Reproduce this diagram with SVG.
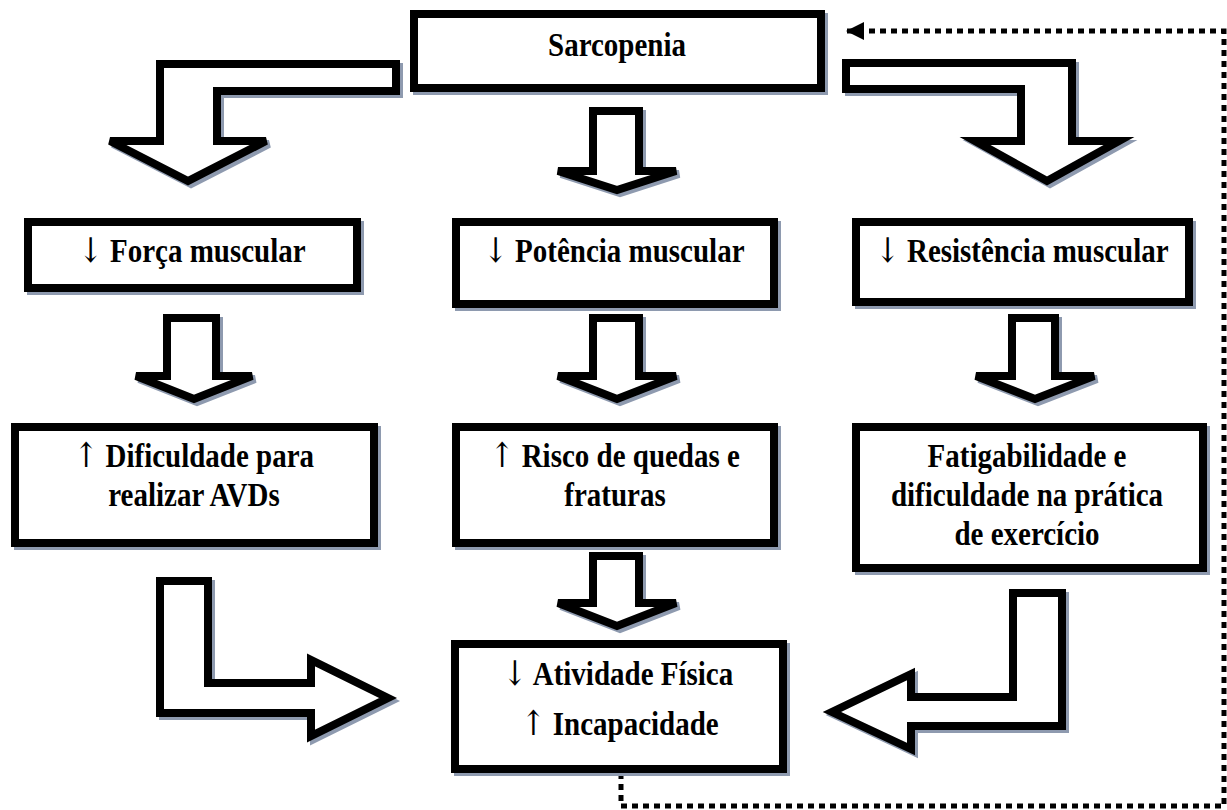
<svg xmlns="http://www.w3.org/2000/svg" xmlns:xlink="http://www.w3.org/1999/xlink" width="1227" height="810" viewBox="0 0 1227 810">
<style>
.sh{fill:#8e9aaf;stroke:#8e9aaf;stroke-width:8;stroke-linejoin:miter}
.mn{fill:#ffffff;stroke:#000000;stroke-width:8;stroke-linejoin:miter}
.t{font-family:"Liberation Serif","Times New Roman",serif;font-weight:bold;font-size:29px;fill:#000000;text-anchor:middle}
.ar{font-family:"DejaVu Serif","DejaVu Sans",serif;font-weight:normal;fill:#000000}
.dot{fill:none;stroke:#000000;stroke-width:5;stroke-dasharray:6 5}
</style>
<defs>
<marker id="ah" markerUnits="userSpaceOnUse" markerWidth="20" markerHeight="18" refX="18" refY="9" orient="auto">
<path d="M0,0 L18,9 L0,18 Z" fill="#000000"/>
</marker>
<rect id="b1" x="414" y="14" width="407" height="74"/>
<rect id="b2" x="28" y="222" width="329" height="66"/>
<rect id="b3" x="456" y="222" width="318" height="82"/>
<rect id="b4" x="856" y="222" width="333" height="80"/>
<rect id="b5" x="15" y="427" width="359" height="116"/>
<rect id="b6" x="456" y="427" width="318" height="116"/>
<rect id="b7" x="856" y="427" width="347" height="141"/>
<rect id="b8" x="455" y="644" width="328" height="125"/>
<path id="a1" d="M160,141 L160,64 L396,64 L396,91 L217,91 L217,141 L266,141 L188,181 L110,141 Z"/>
<path id="a2" d="M593,111 L639,111 L639,171 L676,171 L617,190 L558,171 L593,171 Z"/>
<path id="a3" d="M846,63 L1072,63 L1072,141 L1119,141 L1047,181 L975,141 L1021,141 L1021,89 L846,89 Z"/>
<path id="a4" d="M167,318 L216,318 L216,376 L252,376 L194,399 L136,376 L167,376 Z"/>
<path id="a5" d="M593,318 L639,318 L639,376 L676,376 L617,399 L558,376 L593,376 Z"/>
<path id="a6" d="M1012,318 L1055,318 L1055,376 L1094,376 L1035,399 L976,376 L1012,376 Z"/>
<path id="a7" d="M593,556 L639,556 L639,603 L676,603 L617,626 L558,603 L593,603 Z"/>
<path id="a8" d="M160,581 L208,581 L208,683 L311,683 L311,660 L388,698 L311,736 L311,713 L160,713 Z"/>
<path id="a9" d="M1013,593 L1062,593 L1062,726 L911,726 L911,749 L832,712 L911,674 L911,697 L1013,697 Z"/>
</defs>

<g id="connectors">
<g id="arrow-sarc-forca"><use xlink:href="#a1" class="sh" transform="translate(3,3)"/><use xlink:href="#a1" class="mn"/></g>
<g id="arrow-sarc-potencia"><use xlink:href="#a2" class="sh" transform="translate(3,3)"/><use xlink:href="#a2" class="mn"/></g>
<g id="arrow-sarc-resistencia"><use xlink:href="#a3" class="sh" transform="translate(3,3)"/><use xlink:href="#a3" class="mn"/></g>
<g id="arrow-forca-dificuldade"><use xlink:href="#a4" class="sh" transform="translate(3,3)"/><use xlink:href="#a4" class="mn"/></g>
<g id="arrow-potencia-risco"><use xlink:href="#a5" class="sh" transform="translate(3,3)"/><use xlink:href="#a5" class="mn"/></g>
<g id="arrow-resistencia-fatig"><use xlink:href="#a6" class="sh" transform="translate(3,3)"/><use xlink:href="#a6" class="mn"/></g>
<g id="arrow-risco-atividade"><use xlink:href="#a7" class="sh" transform="translate(3,3)"/><use xlink:href="#a7" class="mn"/></g>
<g id="arrow-dificuldade-atividade"><use xlink:href="#a8" class="sh" transform="translate(3,3)"/><use xlink:href="#a8" class="mn"/></g>
<g id="arrow-fatig-atividade"><use xlink:href="#a9" class="sh" transform="translate(3,3)"/><use xlink:href="#a9" class="mn"/></g>
<path id="feedback" class="dot" d="M621,773 L621,806 L1224,806 L1224,31 L846,31" marker-end="url(#ah)"/>
</g>

<g id="sarcopenia"><use xlink:href="#b1" class="sh" transform="translate(3,3)"/><use xlink:href="#b1" class="mn"/>
<text class="t" transform="translate(617,56) scale(1,1.18)">Sarcopenia</text></g>

<g id="forca"><use xlink:href="#b2" class="sh" transform="translate(3,3)"/><use xlink:href="#b2" class="mn"/>
<text class="t" transform="translate(192,262) scale(1,1.18)"><tspan class="ar">↓</tspan> Força muscular</text></g>

<g id="potencia"><use xlink:href="#b3" class="sh" transform="translate(3,3)"/><use xlink:href="#b3" class="mn"/>
<text class="t" transform="translate(614,262) scale(1,1.18)"><tspan class="ar">↓</tspan> Potência muscular</text></g>

<g id="resistencia"><use xlink:href="#b4" class="sh" transform="translate(3,3)"/><use xlink:href="#b4" class="mn"/>
<text class="t" transform="translate(1022,262) scale(1,1.18)"><tspan class="ar">↓</tspan> Resistência muscular</text></g>

<g id="dificuldade"><use xlink:href="#b5" class="sh" transform="translate(3,3)"/><use xlink:href="#b5" class="mn"/>
<text class="t" transform="translate(194,467) scale(1,1.18)"><tspan class="ar">↑</tspan> Dificuldade para</text>
<text class="t" transform="translate(194,506) scale(1,1.18)">realizar AVDs</text></g>

<g id="risco"><use xlink:href="#b6" class="sh" transform="translate(3,3)"/><use xlink:href="#b6" class="mn"/>
<text class="t" transform="translate(615,467) scale(1,1.18)"><tspan class="ar">↑</tspan> Risco de quedas e</text>
<text class="t" transform="translate(615,506) scale(1,1.18)">fraturas</text></g>

<g id="fatigabilidade"><use xlink:href="#b7" class="sh" transform="translate(3,3)"/><use xlink:href="#b7" class="mn"/>
<text class="t" transform="translate(1027,467) scale(1,1.18)">Fatigabilidade e</text>
<text class="t" transform="translate(1027,506) scale(1,1.18)">dificuldade na prática</text>
<text class="t" transform="translate(1027,545) scale(1,1.18)">de exercício</text></g>

<g id="atividade"><use xlink:href="#b8" class="sh" transform="translate(3,3)"/><use xlink:href="#b8" class="mn"/>
<text class="t" transform="translate(618,685) scale(1,1.18)"><tspan class="ar">↓</tspan> Atividade Física</text>
<text class="t" transform="translate(620,735) scale(1,1.18)"><tspan class="ar">↑</tspan> Incapacidade</text></g>
</svg>
